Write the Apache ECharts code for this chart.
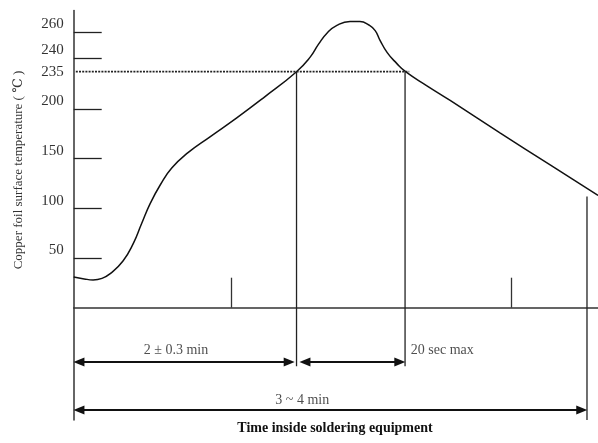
<!DOCTYPE html>
<html><head><meta charset="utf-8">
<script src="https://cdn.jsdelivr.net/npm/echarts@6/dist/echarts.min.js"></script>
<style>html,body{margin:0;padding:0;background:#fff}#c{width:598px;height:443px}</style>
</head><body><div id="c"></div>
<script>
// ---- data (time in % of drawn time span, temperature in °C) ----
const curveTime = [0, 2.0, 3.7, 5.4, 6.9, 9.4, 11.4, 12.9, 14.6, 16.5, 18.7, 21.8, 26.0, 31.1, 36.2, 42.5, 45.1, 46.7, 48.3, 50.2, 52.7, 54.6, 56.3, 57.5, 58.4, 59.8, 61.6, 63.3, 67.3, 71.8, 81.3, 90.8, 100];
const curveTemp = [31, 29, 28, 29.5, 34, 47, 65, 84, 105, 123.5, 140.5, 156, 172, 191, 210.5, 235, 240.5, 250.5, 259, 265, 268, 268, 265.3, 261, 253.7, 244, 238, 235, 222, 208, 176, 144, 113];
const tickTemps = [50, 100, 150, 200, 240, 260];
const refTemp = 235;
const refEndTime = 64;
const xTickTimes = [30.1, 83.5];
const crossTimes = [42.5, 63.2];
const endTime = 97.9;
const endTemp = 112;
const spanLabels = ['2 ± 0.3 min', '20 sec max', '3 ~ 4 min'];
const spanFrom = [0, 42.5, 0];
const spanTo = [42.5, 63.2, 97.9];
const yTitle = 'Copper foil surface temperature ( ℃ )';
const xTitle = 'Time inside soldering equipment';

// schematic temperature scale of the drawing (stretched above 200 °C)
const scaleTemp = [0, 200, 235, 240, 260, 300];
const scaleUnit = [0, 200, 237.5, 251.5, 277.6, 329.8];
function sch(t) {
  for (let i = 1; i < scaleTemp.length; i++) {
    if (t <= scaleTemp[i] || i === scaleTemp.length - 1) {
      const a = scaleTemp[i - 1], b = scaleTemp[i];
      return scaleUnit[i - 1] + (t - a) * (scaleUnit[i] - scaleUnit[i - 1]) / (b - a);
    }
  }
}

// layout levels below the time axis (axis units)
const L = { row1: -54.6, row1Label: -43, row2: -103, row2Label: -93.6, guideBottom: -59, frameBottom: -113, inset: 1.0, gap: 0.6 };
const labelTime = [19.5, 64.3, 43.6];
const labelAlign = ['center', 'left', 'center'];
const labelLevel = [L.row1Label, L.row1Label, L.row2Label];
const spanLevel = [L.row1, L.row1, L.row2];

const ink = '#222';
const font = "'Liberation Serif', 'DejaVu Serif', serif";
const tickUnits = tickTemps.map(sch);

const lineSeries = (data, style) => ({
  type: 'line', data, symbol: 'none', silent: true, animation: false,
  lineStyle: Object.assign({ color: ink, width: 1.3 }, style)
});

const series = [];
// main curve
series.push(Object.assign(lineSeries(curveTime.map((t, i) => [t, sch(curveTemp[i])]), { width: 1.5, color: '#111' }), { smooth: 0.5 }));
// dotted 235 reference
series.push(lineSeries([[0.4, sch(refTemp)], [refEndTime, sch(refTemp)]], { type: [2, 1.2], width: 1.8, color: '#222' }));
// vertical guides at 235 crossings
crossTimes.forEach(t => series.push(lineSeries([[t, sch(refTemp)], [t, L.guideBottom]], {})));
// right end vertical
series.push(lineSeries([[endTime, sch(endTemp)], [endTime, L.frameBottom]], {}));
// arrows
series.push({
  type: 'line', data: [], silent: true, animation: false,
  markLine: {
    silent: true, animation: false,
    symbol: ['triangle', 'triangle'], symbolSize: [9, 11],
    lineStyle: { color: '#111', width: 2, type: 'solid' },
    itemStyle: { color: '#111' },
    label: { show: false },
    data: spanFrom.map((f, i) => {
      const from = f + L.inset + (i === 1 ? L.gap : 0);
      const to = spanTo[i] - L.inset - (i === 0 ? 0.4 : 0);
      return [{ coord: [from, spanLevel[i]] }, { coord: [to, spanLevel[i]] }];
    })
  }
});
// span labels
series.push({
  type: 'scatter', silent: true, animation: false, symbolSize: 1,
  itemStyle: { color: 'rgba(0,0,0,0)' },
  data: spanLabels.map((s, i) => ({
    value: [labelTime[i], labelLevel[i]], name: s,
    label: { show: true, position: 'inside', align: labelAlign[i], verticalAlign: 'middle',
      formatter: s, color: '#222', fontFamily: font, fontSize: 14 }
  }))
});

const chart = echarts.init(document.getElementById('c'), null, { renderer: 'canvas' });
chart.setOption({
  backgroundColor: '#fff',
  animation: false,
  grid: { left: 73.7, right: 0, top: 10.6, bottom: 23 },
  xAxis: {
    type: 'value', min: 0, max: 100,
    axisLine: { onZero: true, lineStyle: { color: '#333', width: 1.5 } },
    axisTick: { show: true, inside: true, length: 30, customValues: xTickTimes, lineStyle: { color: '#333', width: 1.3 } },
    axisLabel: { show: false },
    splitLine: { show: false }
  },
  yAxis: [{
    type: 'value', min: -113, max: 299,
    axisLine: { show: true, onZero: false, lineStyle: { color: '#333', width: 1.5 } },
    axisTick: { show: true, inside: true, length: 28, customValues: tickUnits, lineStyle: { color: '#222', width: 1.3 } },
    axisLabel: {
      show: true, customValues: tickUnits, margin: 10, verticalAlign: 'bottom',
      color: '#333', fontFamily: font, fontSize: 15,
      formatter: v => { const i = tickUnits.findIndex(u => Math.abs(u - v) < 1e-6); return i >= 0 ? String(tickTemps[i]) : ''; }
    },
    splitLine: { show: false }
  }, {
    type: 'value', min: -113, max: 299, position: 'left',
    axisLine: { show: false, onZero: false }, axisTick: { show: false }, splitLine: { show: false },
    axisLabel: {
      show: true, customValues: [sch(refTemp)], margin: 10, verticalAlign: 'middle',
      color: '#333', fontFamily: font, fontSize: 15, formatter: () => String(refTemp)
    }
  }],
  graphic: [
    { type: 'text', x: 19, y: 170, rotation: Math.PI / 2, silent: true,
      style: { text: yTitle, font: '13px ' + font, fill: '#333', align: 'center', verticalAlign: 'middle', textAlign: 'center', textVerticalAlign: 'middle' } },
    { type: 'text', x: 335, y: 428, silent: true,
      style: { text: xTitle, font: 'bold 14px ' + font, fill: '#111', align: 'center', verticalAlign: 'middle', textAlign: 'center', textVerticalAlign: 'middle' } }
  ],
  series
});
</script></body></html>
